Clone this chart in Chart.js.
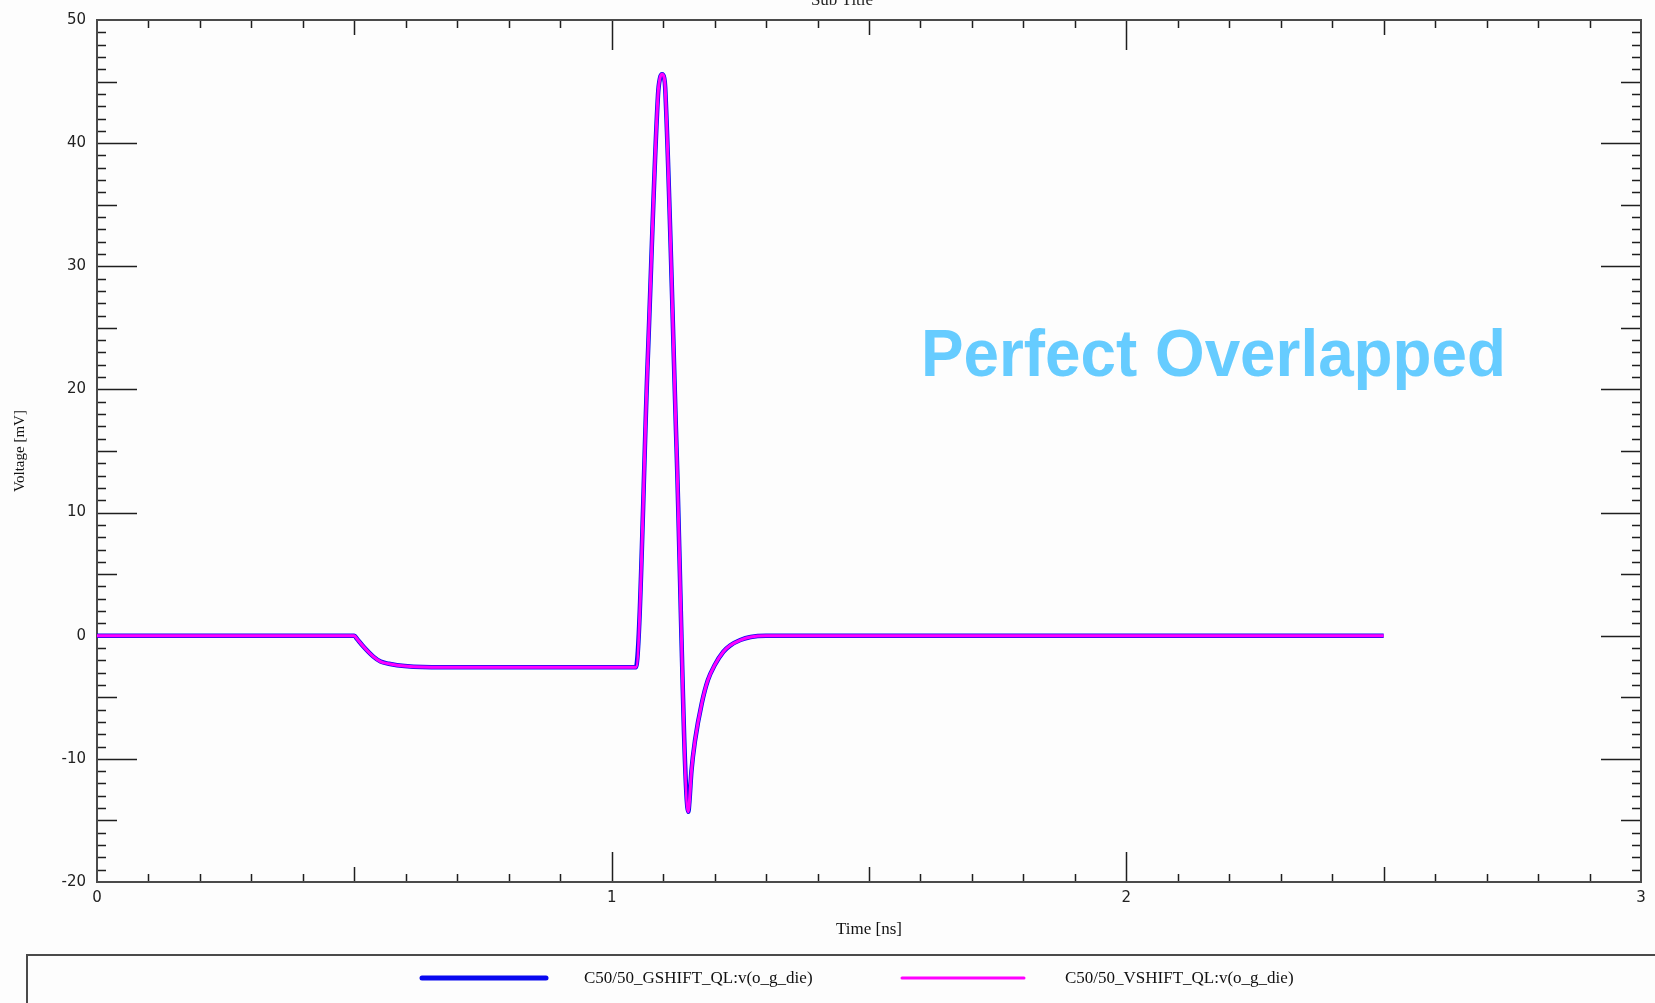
<!DOCTYPE html>
<html>
<head>
<meta charset="utf-8">
<title>Perfect Overlapped</title>
<script src="https://cdn.jsdelivr.net/npm/chart.js@4.4.1/dist/chart.umd.min.js"></script>
<style>
  html, body { margin: 0; padding: 0; background: #fdfdfd; }
  canvas { display: block; }
</style>
</head>
<body>
<canvas id="myChart" width="1655" height="1003"></canvas>
<script>
// waveform: time in ns, voltage in mV
const timeNs = [
    0, 0.5, 0.505, 0.518, 0.537, 0.551, 0.567, 0.583, 0.615, 0.65,
    1.047, 1.07, 1.09, 1.094, 1.098, 1.102, 1.104, 1.126, 1.149, 1.151,
    1.155, 1.162, 1.175, 1.187, 1.2, 1.217, 1.23, 1.25, 1.27, 1.3,
    1.33, 2.5
];
const gshiftMv = [
    0, 0, -0.25, -0.9, -1.7, -2.1, -2.28, -2.4, -2.52, -2.56,
    -2.56, 22.3, 43.9, 45.3, 45.6, 45.3, 44.5, 15.3, -14.3, -13.5,
    -11, -8.5, -5.5, -3.6, -2.4, -1.3, -0.8, -0.35, -0.1, 0,
    0, 0
];
const vshiftMv = [
    0, 0, -0.25, -0.9, -1.7, -2.1, -2.28, -2.4, -2.52, -2.56,
    -2.56, 22.3, 43.9, 45.3, 45.6, 45.3, 44.5, 15.3, -14.3, -13.5,
    -11, -8.5, -5.5, -3.6, -2.4, -1.3, -0.8, -0.35, -0.1, 0,
    0, 0
];
const seriesNames = ['C50/50_GSHIFT_QL:v(o_g_die)', 'C50/50_VSHIFT_QL:v(o_g_die)'];
const xTickValues = [0, 1, 2, 3];
const yTickValues = [-20, -10, 0, 10, 20, 30, 40, 50];

const toPoints = (ys) => timeNs.map((t, i) => ({x: t, y: ys[i]}));

// frame, the many little tick marks, title, note and legend box
const scopeDecor = {
    id: 'scopeDecor',
    beforeDraw(chart) {
        const ctx = chart.ctx;
        ctx.save();
        ctx.fillStyle = '#fdfdfd';
        ctx.fillRect(0, 0, chart.width, chart.height);
        ctx.restore();
    },
    beforeDatasetsDraw(chart) {
        const {ctx, chartArea: a, scales: {x, y}} = chart;
        ctx.save();
        ctx.strokeStyle = '#1e1e1e';
        ctx.lineWidth = 1.5;
        ctx.beginPath();
        for (let i = 1; i < 30; i++) {
            const px = Math.round(x.getPixelForValue(i / 10)) + 0.5;
            const len = i % 10 === 0 ? 30 : (i % 5 === 0 ? 15 : 8);
            ctx.moveTo(px, a.bottom); ctx.lineTo(px, a.bottom - len);
            ctx.moveTo(px, a.top); ctx.lineTo(px, a.top + len);
        }
        for (let v = -19; v < 50; v++) {
            const py = Math.round(y.getPixelForValue(v)) + 0.5;
            const len = v % 10 === 0 ? 40 : (v % 5 === 0 ? 20 : 9);
            ctx.moveTo(a.left, py); ctx.lineTo(a.left + len, py);
            ctx.moveTo(a.right, py); ctx.lineTo(a.right - len, py);
        }
        ctx.stroke();
        ctx.strokeStyle = '#4a4a4a';
        ctx.lineWidth = 2;
        ctx.strokeRect(a.left, a.top, a.right - a.left, a.bottom - a.top);
        ctx.restore();
    },
    afterDraw(chart) {
        const ctx = chart.ctx;
        ctx.save();

        // sub title, cut off by the top edge
        ctx.fillStyle = '#222';
        ctx.font = '17px "Liberation Serif", serif';
        ctx.textAlign = 'center';
        ctx.textBaseline = 'alphabetic';
        ctx.fillText('Sub Title', 842, 5);

        // big note
        ctx.font = 'bold 66px "Liberation Sans", Arial, sans-serif';
        ctx.textAlign = 'left';
        const note = 'Perfect Overlapped';
        const sx = 585 / ctx.measureText(note).width;
        ctx.save();
        ctx.translate(921, 376);
        ctx.scale(sx, 1);
        ctx.fillStyle = '#66ccff';
        ctx.fillText(note, 0, 0);
        ctx.restore();

        // legend box
        ctx.strokeStyle = '#4a4a4a';
        ctx.lineWidth = 2;
        ctx.strokeRect(27, 955, 1700, 100);
        const lineX = [[422, 546], [902, 1024]];
        const textX = [584, 1065];
        const widths = [5, 3];
        chart.data.datasets.forEach((ds, i) => {
            ctx.strokeStyle = ds.borderColor;
            ctx.lineWidth = widths[i];
            ctx.lineCap = 'round';
            ctx.beginPath();
            ctx.moveTo(lineX[i][0], 978);
            ctx.lineTo(lineX[i][1], 978);
            ctx.stroke();
            ctx.fillStyle = '#111';
            ctx.font = '17px "Liberation Serif", serif';
            ctx.textBaseline = 'middle';
            ctx.fillText(ds.label, textX[i], 979);
        });
        ctx.restore();
    }
};

const data = {
    datasets: [{
        label: seriesNames[0],
        data: toPoints(gshiftMv),
        borderColor: '#0808f0',
        borderWidth: 4.5,
        order: 1
    }, {
        label: seriesNames[1],
        data: toPoints(vshiftMv),
        borderColor: '#ff00ff',
        borderWidth: 3,
        order: 0
    }]
};

const config = {
    type: 'line',
    data: data,
    options: {
        responsive: false,
        animation: false,
        devicePixelRatio: 1,
        layout: {padding: {left: 0, top: 19, right: 14, bottom: 61}},
        elements: {
            point: {radius: 0},
            line: {cubicInterpolationMode: 'monotone', borderJoinStyle: 'round'}
        },
        plugins: {
            legend: {display: false},
            tooltip: {enabled: false}
        },
        scales: {
            x: {
                type: 'linear',
                min: 0,
                max: 3,
                afterBuildTicks: (s) => { s.ticks = xTickValues.map(v => ({value: v})); },
                afterFit: (s) => { s.height = 60; },
                grid: {display: false, drawTicks: false},
                border: {display: false},
                ticks: {
                    padding: 7,
                    color: '#222',
                    font: {family: '"DejaVu Sans", sans-serif', size: 15}
                },
                title: {
                    display: true,
                    text: 'Time [ns]',
                    color: '#111',
                    padding: {top: 0, bottom: 2},
                    font: {family: '"Liberation Serif", serif', size: 17}
                }
            },
            y: {
                type: 'linear',
                min: -20,
                max: 50,
                afterBuildTicks: (s) => { s.ticks = yTickValues.map(v => ({value: v})); },
                afterFit: (s) => { s.width = 97; },
                grid: {display: false, drawTicks: false},
                border: {display: false},
                ticks: {
                    padding: 11,
                    color: '#222',
                    font: {family: '"DejaVu Sans", sans-serif', size: 15}
                },
                title: {
                    display: true,
                    text: 'Voltage [mV]',
                    color: '#111',
                    padding: {top: 11, bottom: 0},
                    font: {family: '"Liberation Serif", serif', size: 15}
                }
            }
        }
    },
    plugins: [scopeDecor]
};

const myChart = new Chart(
    document.getElementById('myChart'),
    config
    );
</script>
</body>
</html>
